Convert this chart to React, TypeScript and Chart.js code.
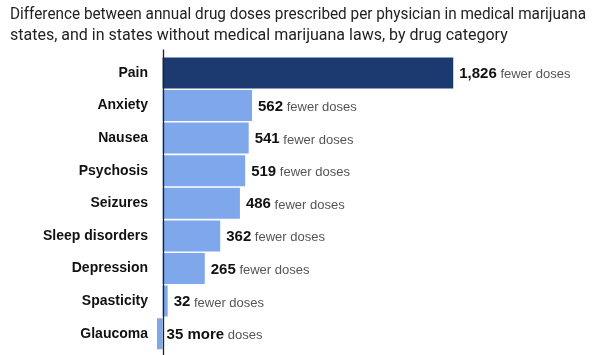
import React, { useEffect, useRef } from "react";
import { Chart, registerables } from "chart.js";

Chart.register(...registerables);

const categories = ["Pain", "Anxiety", "Nausea", "Psychosis", "Seizures", "Sleep disorders", "Depression", "Spasticity", "Glaucoma"];
const fewerDoses = [1826, 562, 541, 519, 486, 362, 265, 32, -35];
const barColors = ["#1c3a70", "#7ea7ec", "#7ea7ec", "#7ea7ec", "#7ea7ec", "#7ea7ec", "#7ea7ec", "#7ea7ec", "#7ea7ec"];
const titleLines = [
  "Difference between annual drug doses prescribed per physician in medical marijuana",
  "states, and in states without medical marijuana laws, by drug category",
];

const FONT = "'Liberation Sans', Arial, sans-serif";
const TITLE_FONT = "Roboto, 'Liberation Sans', sans-serif";

const valueLabelPlugin = {
  id: "valueLabels",
  afterDatasetsDraw(chart: any) {
    const ctx = chart.ctx;
    const xScale = chart.scales.x;
    const zeroX = xScale.getPixelForValue(0);
    const meta = chart.getDatasetMeta(0);
    ctx.save();
    // zero line
    ctx.strokeStyle = "#222";
    ctx.lineWidth = 1.3;
    ctx.beginPath();
    ctx.moveTo(Math.round(zeroX) + 0.5, chart.chartArea.top - 7);
    ctx.lineTo(Math.round(zeroX) + 0.5, chart.chartArea.bottom + 6);
    ctx.stroke();
    ctx.textBaseline = "middle";
    meta.data.forEach((bar: any, i: number) => {
      const v = fewerDoses[i];
      const num = Math.abs(v).toLocaleString("en-US");
      const boldText = v >= 0 ? num : num + " more";
      const rest = v >= 0 ? " fewer doses" : " doses";
      const x = v >= 0 ? bar.x + 6 : zeroX + 4;
      const y = bar.y + 1;
      ctx.font = `bold 15px ${FONT}`;
      ctx.fillStyle = "#111";
      ctx.fillText(boldText, x, y);
      const w = ctx.measureText(boldText).width;
      ctx.font = `13px ${FONT}`;
      ctx.fillStyle = "#555";
      ctx.fillText(rest, x + w, y + 1);
    });
    ctx.restore();
  },
};

export default function App() {
  const ref = useRef<HTMLCanvasElement>(null);
  useEffect(() => {
    document.body.style.margin = "0";
    const chart = new Chart(ref.current!, {
      type: "bar",
      data: {
        labels: categories,
        datasets: [
          {
            data: fewerDoses,
            backgroundColor: barColors,
            borderWidth: 0,
            barPercentage: 0.95,
            categoryPercentage: 1,
          },
        ],
      },
      options: {
        indexAxis: "y",
        animation: false,
        responsive: false,
        layout: { padding: { left: 10, right: 6, top: 0, bottom: 5 } },
        plugins: {
          legend: { display: false },
          tooltip: { enabled: false },
          title: {
            display: true,
            text: titleLines,
            align: "start",
            color: "#222",
            font: { family: TITLE_FONT, size: 16, weight: "normal", lineHeight: 1.3 },
            padding: { top: 5, bottom: 10 },
          },
        },
        scales: {
          x: { display: false, min: -35, max: 2660 },
          y: {
            grid: { display: false, drawTicks: false },
            border: { display: false },
            ticks: {
              color: "#111",
              padding: 9,
              font: { family: FONT, size: 14, weight: "bold" },
            },
            afterFit(scale: any) {
              scale.width = 147;
              scale.paddingTop = 0;
              scale.paddingBottom = 0;
            },
          },
        },
      },
      plugins: [valueLabelPlugin],
    });
    return () => chart.destroy();
  }, []);
  return <canvas ref={ref} width={592} height={355} style={{ display: "block" }} />;
}
